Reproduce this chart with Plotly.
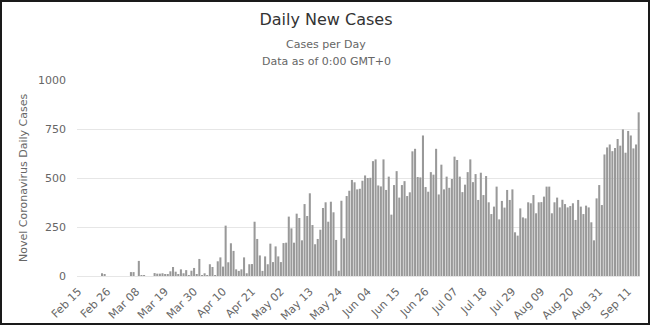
import pandas as pd
import plotly.graph_objects as go

# Daily new cases, one value per day starting Feb 15
start_date = "2020-02-15"
daily_cases = [
    0, 0, 0, 0, 0, 0, 0, 0, 0, 14, 6,
    0, 0, 0, 0, 0, 0, 0, 0, 0,
    20, 20, 0, 77, 3, 4, 0, 0, 0,
    15, 12, 12, 14, 10, 10, 24, 46, 22, 10, 34, 14, 30, 2, 27, 41, 7, 87, 5, 14, 5,
    60, 46, 2, 75, 95, 48, 257, 70, 167, 128, 34, 26, 34, 95, 14, 60, 61, 277, 189, 105,
    26, 100, 60, 165, 71, 151, 100, 71, 168, 170, 303, 243, 170, 318, 296, 182, 367, 306,
    422, 260, 162, 189, 236, 347, 376, 277, 379, 325, 184, 27, 384, 192, 408, 435, 490, 478,
    442, 445, 486, 513, 500, 501, 586, 595, 462, 457, 595, 439, 507, 313, 464, 535, 400,
    464, 484, 408, 427, 636, 649, 505, 503, 717, 454, 430, 530, 517, 649, 416, 568, 442,
    507, 450,
    495, 609, 592, 507, 428, 466, 530, 595, 479, 520, 388, 527, 413, 510, 376, 316, 354,
    456, 289, 383, 349, 439, 388, 442, 223, 206, 345, 299, 294, 376, 371, 413, 320, 376,
    377, 405,
    456, 456, 320, 376, 400, 350, 389, 367, 350, 357, 371, 286, 388, 354, 316, 359, 350,
    274, 182, 396, 464, 362, 620, 656, 671, 637, 653, 699, 665, 748, 629, 740, 717, 651,
    671, 835,
]

# Category labels (one per day) and the labelled subset, every 11 days
dates = pd.date_range(start_date, periods=len(daily_cases), freq="D")
categories = [d.strftime("%b %d") for d in dates]
tick_labels = categories[::11]

y_ticks = [0, 250, 500, 750, 1000]

W, H = 650, 325
ML, MR, MT, MB = 77, 10, 80, 49
PW, PH = W - ML - MR, H - MT - MB

font_family = "DejaVu Sans, Verdana, sans-serif"

fig = go.Figure(
    go.Bar(
        x=categories,
        y=daily_cases,
        marker=dict(color="#999999", line=dict(width=0)),
        hovertemplate="%{x}: %{y}<extra></extra>",
    )
)

fig.update_layout(
    width=W,
    height=H,
    margin=dict(l=ML, r=MR, t=MT, b=MB, autoexpand=False),
    paper_bgcolor="white",
    plot_bgcolor="white",
    bargap=0.22,
    showlegend=False,
    font=dict(family=font_family, color="#666666", size=11),
    title=dict(
        text="Daily New Cases",
        x=326 / W,
        xref="container",
        xanchor="center",
        y=1 - 19 / H,
        yref="container",
        yanchor="middle",
        font=dict(size=16, color="#333333", family=font_family),
    ),
    annotations=[
        dict(
            text="Cases per Day",
            xref="paper", yref="paper",
            x=(326 - ML) / PW, y=(H - MB - 45) / PH,
            xanchor="center", yanchor="middle",
            showarrow=False,
            font=dict(size=11, color="#666666"),
        ),
        dict(
            text="Data as of 0:00 GMT+0",
            xref="paper", yref="paper",
            x=(326 - ML) / PW, y=(H - MB - 61) / PH,
            xanchor="center", yanchor="middle",
            showarrow=False,
            font=dict(size=11, color="#666666"),
        ),
        dict(
            text="Novel Coronavirus Daily Cases",
            xref="paper", yref="paper",
            x=(23 - ML) / PW, y=0.5,
            xanchor="center", yanchor="middle",
            textangle=-90,
            showarrow=False,
            font=dict(size=11, color="#666666"),
        ),
    ],
    shapes=[
        dict(
            type="rect",
            xref="paper", yref="paper",
            x0=(-ML + 1) / PW, x1=1 + (MR - 1) / PW,
            y0=(-MB + 1) / PH, y1=1 + (MT - 1) / PH,
            line=dict(color="#1a1a1a", width=2),
            fillcolor="rgba(0,0,0,0)",
            layer="above",
        )
    ],
)

fig.update_xaxes(
    type="category",
    automargin=False,
    tickmode="array",
    tickvals=tick_labels,
    ticktext=tick_labels,
    tickangle=-45,
    showgrid=False,
    showline=False,
    ticks="",
    ticklabelstandoff=6,
    tickfont=dict(size=11, color="#666666"),
)

fig.update_yaxes(
    automargin=False,
    range=[0, 1000],
    tickvals=y_ticks,
    showgrid=True,
    gridcolor="#e6e6e6",
    gridwidth=1,
    zeroline=True,
    zerolinecolor="#e6e6e6",
    zerolinewidth=1,
    showline=False,
    ticks="",
    ticklabelstandoff=10,
    tickfont=dict(size=11, color="#666666"),
)

fig.write_html("out.html")
